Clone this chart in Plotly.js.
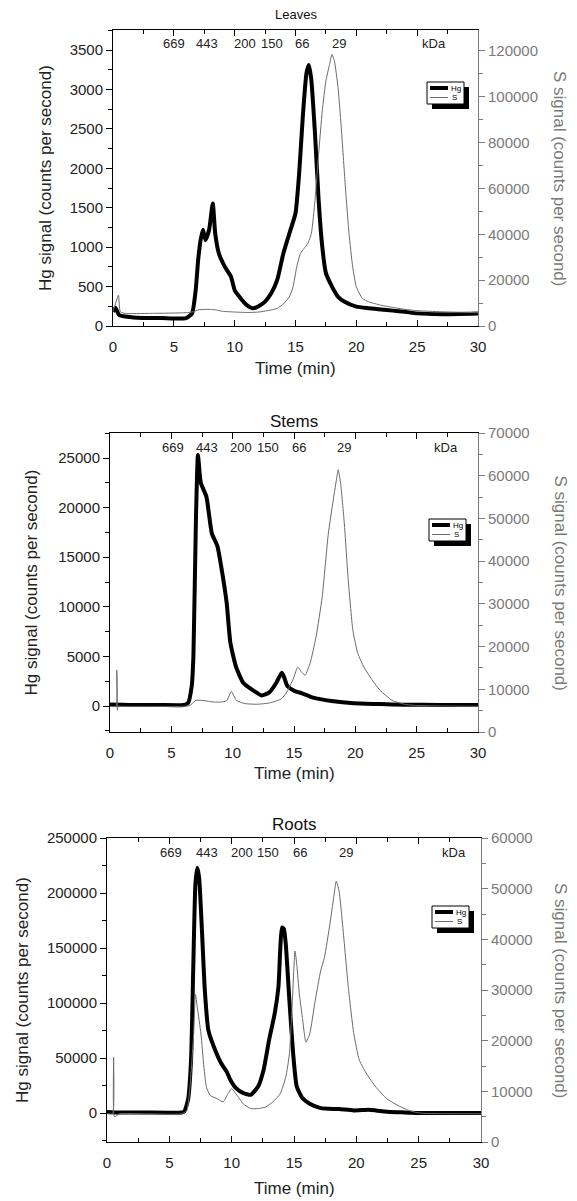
<!DOCTYPE html>
<html>
<head>
<meta charset="utf-8">
<script src="https://cdn.plot.ly/plotly-3.0.1.min.js"></script>
<style>
html,body{margin:0;padding:0;background:#fff;}
#chart{width:577px;height:1201px;}
</style>
</head>
<body>
<div id="chart"></div>
<script>
// ---------------- DATA ----------------
const panelTitles = ['Leaves', 'Stems', 'Roots'];
const seriesNames = ['Hg', 'S'];
const kdaLabels = ['669', '443', '200', '150', '66', '29', 'kDa'];
const leavesKdaPos = [5.0, 7.75, 10.85, 13.05, 15.55, 18.6, 26.4];
const stemsKdaPos = [5.15, 7.9, 10.7, 12.9, 15.4, 19.1, 27.4];
const rootsKdaPos = [5.15, 8.0, 10.8, 12.95, 15.45, 19.15, 27.8];

// Leaves
const leavesHgTime = [0,0.2,0.5,1,2,3,4,5,6,6.5,6.8,7.0,7.2,7.4,7.6,7.9,8.2,8.4,8.7,9.2,9.7,10,10.5,11,11.5,12,12.5,13,13.5,14,14.5,15,15.3,15.6,15.9,16.1,16.3,16.6,16.9,17.2,17.5,18,18.5,19,20,21,22,23,24,25,27,30];
const leavesHg = [180,230,140,120,105,100,100,95,100,160,460,840,1090,1220,1090,1220,1555,1175,920,750,625,455,350,265,225,255,310,415,585,920,1175,1430,1935,2655,3205,3310,3120,2445,1600,1005,670,500,370,310,245,225,210,195,180,160,150,160];
const leavesSTime = [0,0.3,0.45,0.6,1,3,6,6.6,7,7.5,8,8.5,9,10,11,12,13,13.5,14,14.5,14.8,15.1,15.4,15.7,16,16.3,16.6,16.9,17.2,17.5,17.8,18,18.2,18.5,18.8,19.1,19.4,19.7,20,20.5,21,22,23,24,25,27,30];
const leavesS = [6200,11300,13500,6200,5500,5500,5800,6200,7000,7250,7250,7000,6400,6100,5900,6100,7000,7700,9600,12750,17100,25800,31600,33800,35900,40300,54800,75100,93900,106900,114200,118500,115600,104000,83800,60600,40300,25800,17100,12000,10600,9100,8100,7250,6700,6200,5800];

// Stems
const stemsHgTime = [0,1,2,4,6,6.36,6.66,6.8,7.0,7.17,7.4,7.86,8.3,8.76,9.06,9.51,9.81,10.26,10.86,11.76,12.36,12.96,13.56,14.0,14.16,14.46,15.06,15.66,16.56,18.06,19.86,22,24.06,27,30];
const stemsHg = [150,120,100,100,100,300,2000,5000,18500,25300,22500,21100,17400,16100,14100,10400,6400,4000,2350,1500,1070,1340,2350,3360,3020,2010,1500,1280,840,500,270,200,130,110,100];
const stemsSTime = [0,0.5,0.55,0.6,0.65,1,3,6,6.5,7,7.5,8,8.5,9,9.5,9.9,10.3,11,12,13,14,14.5,15,15.3,15.6,15.9,16.3,16.8,17.3,17.8,18.2,18.5,18.6,18.8,19.1,19.4,19.8,20.2,20.7,21.2,22,23,24,25,30];
const stemsS = [6000,6000,14500,5100,6000,6000,6000,6000,6200,7400,7400,7200,7000,7000,7300,9500,7400,6650,6500,6800,7800,9800,12900,15200,14100,13300,16000,22300,31700,46500,54300,59800,61400,58200,48900,36400,23800,18400,15200,12900,9800,7400,6500,6200,6000];

// Roots
const rootsHgTime = [0,1,3,6,6.2,6.5,6.74,6.92,7.09,7.24,7.39,7.63,7.83,8.13,8.57,9.16,9.6,9.9,10.35,10.94,11.53,12.12,12.56,13.0,13.45,13.75,14.04,14.19,14.34,14.63,14.93,15.22,15.67,16.26,17.14,18.62,19.8,20.99,21.58,22.76,23.9,25.4,30];
const rootsHg = [1000,500,500,500,1500,12000,48000,132500,207800,222900,213900,162700,114500,75300,60200,45200,37650,30100,22600,18100,16600,24100,39200,66300,90400,114500,168700,167200,153600,102400,54200,24100,13600,8400,4500,3600,2400,3000,2400,900,600,0,0];
const rootsSTime = [0,0.45,0.53,0.6,1,3,6,6.4,6.65,6.95,7.09,7.24,7.54,7.77,7.98,8.28,8.87,9.31,9.7,9.99,10.35,10.94,11.53,12.12,12.71,13.3,13.89,14.34,14.63,14.87,15.08,15.22,15.43,15.67,15.96,16.26,16.7,17.14,17.44,17.88,18.18,18.39,18.62,18.92,19.36,19.8,20.25,20.84,21.58,22.47,23.35,24.24,25.13,30];
const rootsS = [5600,5600,16700,5000,5570,5570,5570,6200,10800,21300,29200,26600,21300,14800,10800,9200,8500,7900,9500,10500,9500,7500,6600,6600,6900,7900,9500,12800,17400,27900,37700,35100,29200,24600,19700,21300,27900,33800,36400,43000,48200,51500,49500,42300,30500,21300,16100,13400,10800,8500,7200,6200,5700,5570];

// ---------------- LAYOUT HELPERS ----------------
const W = 577, H = 1201;
const px = v => v / W;
const py = v => 1 - v / H;
const FONT = 'Liberation Sans, Arial, Helvetica, sans-serif';
const HG_COLOR = '#000';
const S_COLOR = '#6a6a6a';
const R_AXIS = '#7a7a7a';
const HG_WIDTH = 4;
const S_WIDTH = 1;

const panels = [
  {title: panelTitles[0], titleSize: 13, titleY: 15, x0: 113, x1: 478, top: 30, bot: 326,
   yL: [0, 3754], dL: 500, mL: 250, yR: [0, 129160], dR: 20000, mR: 10000,
   timeY: 368, leftTitleX: 45, kda: leavesKdaPos, legendPos: [427, 82],
   hgT: leavesHgTime, hg: leavesHg, sT: leavesSTime, s: leavesS},
  {title: panelTitles[1], titleSize: 17, titleY: 421, x0: 110, x1: 478, top: 433, bot: 732,
   yL: [-2620, 27520], dL: 5000, mL: 2500, yR: [0, 70000], dR: 10000, mR: 5000,
   timeY: 773, leftTitleX: 31, kda: stemsKdaPos, legendPos: [429, 519],
   hgT: stemsHgTime, hg: stemsHg, sT: stemsSTime, s: stemsS},
  {title: panelTitles[2], titleSize: 17, titleY: 824, x0: 107, x1: 481, top: 838, bot: 1142,
   yL: [-26300, 250000], dL: 50000, mL: 25000, yR: [0, 60000], dR: 10000, mR: 5000,
   timeY: 1188, leftTitleX: 23, kda: rootsKdaPos, legendPos: [432, 906],
   hgT: rootsHgTime, hg: rootsHg, sT: rootsSTime, s: rootsS}
];

const data = [];
const layout = {
  width: W, height: H,
  margin: {l: 0, r: 0, t: 0, b: 0, pad: 0},
  paper_bgcolor: '#fff', plot_bgcolor: '#fff',
  font: {family: FONT, color: '#222', size: 15},
  showlegend: false,
  annotations: [],
  shapes: []
};

panels.forEach((p, i) => {
  const xName = i === 0 ? 'x' : 'x' + (i + 1);
  const yl = i === 0 ? 'y' : 'y' + (2 * i + 1);
  const yr = 'y' + (2 * i + 2);
  const xKey = i === 0 ? 'xaxis' : 'xaxis' + (i + 1);
  const ylKey = i === 0 ? 'yaxis' : 'yaxis' + (2 * i + 1);
  const yrKey = 'yaxis' + (2 * i + 2);

  data.push({x: p.sT, y: p.s, xaxis: xName, yaxis: yr, mode: 'lines', name: seriesNames[1],
             line: {color: S_COLOR, width: S_WIDTH, shape: 'spline', smoothing: 0.5}});
  data.push({x: p.hgT, y: p.hg, xaxis: xName, yaxis: yl, mode: 'lines', name: seriesNames[0],
             line: {color: HG_COLOR, width: HG_WIDTH, shape: 'spline', smoothing: 0.5}});

  layout[xKey] = {
    domain: [px(p.x0), px(p.x1)], anchor: yl, range: [0, 30],
    dtick: 5, tick0: 0, ticks: 'inside', ticklen: 6, tickwidth: 1, tickcolor: '#000',
    minor: {dtick: 2.5, ticks: 'inside', ticklen: 4, tickcolor: '#000'},
    showline: true, linecolor: '#000', linewidth: 1, mirror: 'ticks',
    showgrid: false, zeroline: false, ticklabelstandoff: 7,
    tickfont: {size: 15, color: '#222', family: FONT}
  };
  const common = {exponentformat: 'none', separatethousands: false, tickformat: 'd',
                  showgrid: false, zeroline: false, showline: true, linewidth: 1};
  layout[ylKey] = Object.assign({}, common, {
    domain: [py(p.bot), py(p.top)], anchor: xName, range: p.yL,
    dtick: p.dL, tick0: 0, ticks: 'outside', ticklen: 6, tickcolor: '#000',
    minor: {dtick: p.mL, ticks: 'outside', ticklen: 4, tickcolor: '#000'},
    linecolor: '#000',
    tickfont: {size: 15, color: '#222', family: FONT}
  });
  layout[yrKey] = Object.assign({}, common, {
    overlaying: yl, side: 'right', anchor: xName, range: p.yR,
    dtick: p.dR, tick0: 0, ticks: 'outside', ticklen: 6, tickcolor: R_AXIS,
    minor: {dtick: p.mR, ticks: 'outside', ticklen: 4, tickcolor: R_AXIS},
    linecolor: R_AXIS,
    tickfont: {size: 15, color: R_AXIS, family: FONT}
  });

  const cx = (p.x0 + p.x1) / 2;
  layout.annotations.push({text: p.title, xref: 'paper', yref: 'paper', x: px(cx), y: py(p.titleY),
    xanchor: 'center', yanchor: 'middle', showarrow: false, font: {size: p.titleSize, color: '#111'}});
  layout.annotations.push({text: 'Time (min)', xref: 'paper', yref: 'paper', x: px(cx), y: py(p.timeY),
    xanchor: 'center', yanchor: 'middle', showarrow: false, font: {size: 17, color: '#222'}});
  layout.annotations.push({text: 'Hg signal (counts per second)', xref: 'paper', yref: 'paper',
    x: px(p.leftTitleX), y: py((p.top + p.bot) / 2), textangle: -90,
    xanchor: 'center', yanchor: 'middle', showarrow: false, font: {size: 17, color: '#222'}});
  layout.annotations.push({text: 'S signal (counts per second)', xref: 'paper', yref: 'paper',
    x: px(560), y: py((p.top + p.bot) / 2), textangle: 90,
    xanchor: 'center', yanchor: 'middle', showarrow: false, font: {size: 17, color: R_AXIS}});
  kdaLabels.forEach((lab, k) => {
    layout.annotations.push({text: lab, xref: xName, yref: 'paper', x: p.kda[k], y: py(p.top + 14),
      xanchor: 'center', yanchor: 'middle', showarrow: false, font: {size: 13, color: '#222'}});
  });

  // compact boxed legend with drop shadow
  const lx = p.legendPos[0], ly = p.legendPos[1];
  const bw = 37, bh = 22, off = 5;
  layout.shapes.push({type: 'rect', xref: 'paper', yref: 'paper', layer: 'above',
    x0: px(lx + off), x1: px(lx + bw + off), y0: py(ly + bh + off), y1: py(ly + off),
    fillcolor: '#000', line: {width: 0}});
  layout.shapes.push({type: 'rect', xref: 'paper', yref: 'paper', layer: 'above',
    x0: px(lx), x1: px(lx + bw), y0: py(ly + bh), y1: py(ly),
    fillcolor: '#fff', line: {color: '#000', width: 1}});
  layout.shapes.push({type: 'line', xref: 'paper', yref: 'paper', layer: 'above',
    x0: px(lx + 3), x1: px(lx + 21), y0: py(ly + 6), y1: py(ly + 6),
    line: {color: HG_COLOR, width: HG_WIDTH}});
  layout.shapes.push({type: 'line', xref: 'paper', yref: 'paper', layer: 'above',
    x0: px(lx + 3), x1: px(lx + 21), y0: py(ly + 15.5), y1: py(ly + 15.5),
    line: {color: S_COLOR, width: S_WIDTH}});
  layout.annotations.push({text: seriesNames[0], xref: 'paper', yref: 'paper', x: px(lx + 23), y: py(ly + 6),
    xanchor: 'left', yanchor: 'middle', showarrow: false, borderpad: 0, font: {size: 8, color: '#000'}});
  layout.annotations.push({text: seriesNames[1], xref: 'paper', yref: 'paper', x: px(lx + 24), y: py(ly + 15.5),
    xanchor: 'left', yanchor: 'middle', showarrow: false, borderpad: 0, font: {size: 8, color: '#000'}});
});

Plotly.newPlot('chart', data, layout, {staticPlot: true, displayModeBar: false});
</script>
</body>
</html>
